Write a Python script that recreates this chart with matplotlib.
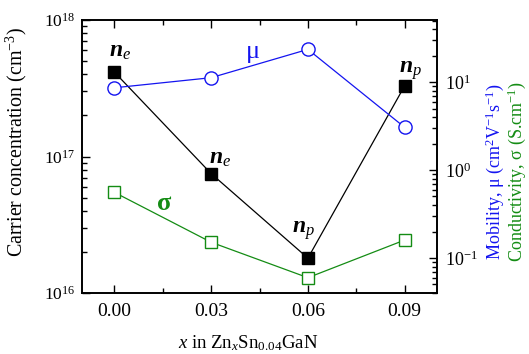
import matplotlib
matplotlib.use("Agg")
import matplotlib.pyplot as plt
from matplotlib.ticker import LogLocator, MultipleLocator, NullFormatter

plt.rcParams['font.family'] = ['Liberation Serif', 'DejaVu Serif']
plt.rcParams['mathtext.fontset'] = 'custom'
plt.rcParams['mathtext.rm'] = 'Liberation Serif'
plt.rcParams['mathtext.it'] = 'Liberation Serif:italic'
plt.rcParams['mathtext.bf'] = 'Liberation Serif:bold'
plt.rcParams['mathtext.bfit'] = 'Liberation Serif:italic:bold'

x = [0.00, 0.03, 0.06, 0.09]
carrier = [4.16e17, 7.5e16, 1.8e16, 3.3e17]
carrier_type = ['e', 'e', 'p', 'p']
mobility = [8.6, 11.2, 23.5, 3.05]
conductivity = [0.558, 0.151, 0.0597, 0.16]
xtick_labels = ['0.00', '0.03', '0.06', '0.09']

BLUE = '#1414f0'
GREEN = '#148c14'

fig = plt.figure(figsize=(5.29, 3.54), dpi=100)
ax = fig.add_axes([82/529, 1-293/354, (437-82)/529, (293-20)/354])
ax2 = ax.twinx()

ax.plot(x, carrier, color='black', lw=0.9, marker='s', ms=8.5,
        mfc='black', mec='black', zorder=3)
ax2.plot(x, mobility, color=BLUE, lw=0.9, marker='o', ms=9.5,
         mfc='white', mec=BLUE, mew=1.0)
ax2.plot(x, conductivity, color=GREEN, lw=0.9, marker='s', ms=9,
         mfc='white', mec=GREEN, mew=1.0)

ax.set_yscale('log')
ax.set_ylim(1e16, 1e18)
ax.set_xlim(-0.01, 0.1)
ax2.set_yscale('log')
ax2.set_ylim(0.04, 50.7)

ax.set_xticks(x)
ax.set_xticklabels(xtick_labels)
ax.xaxis.set_minor_locator(MultipleLocator(0.015))
ax.yaxis.set_minor_locator(LogLocator(base=10, subs=range(2, 10)))
ax.yaxis.set_minor_formatter(NullFormatter())
ax2.yaxis.set_major_locator(LogLocator(base=10, numticks=10))
ax2.yaxis.set_minor_locator(LogLocator(base=10, subs=range(2, 10), numticks=10))
ax2.yaxis.set_minor_formatter(NullFormatter())

ax.tick_params(axis='both', which='major', direction='in', length=6, width=1,
               top=True, bottom=True, left=True, right=False)
ax.tick_params(axis='both', which='minor', direction='in', length=3.5, width=1,
               top=True, bottom=True, left=True, right=False)
ax.tick_params(axis='x', which='major', labelsize=14, pad=7)
ax.tick_params(axis='y', which='major', labelsize=12.5, pad=5)
ax2.tick_params(axis='y', which='major', direction='in', length=6, width=1,
                labelsize=13, pad=6)
ax2.tick_params(axis='y', which='minor', direction='in', length=3.5, width=1)
for a in (ax, ax2):
    for s in a.spines.values():
        s.set_linewidth(1.2)

ax.set_ylabel('Carrier concentration (cm$^{-3}$)', fontsize=14.4)
ax.yaxis.set_label_coords(-0.148, 0.553)
ax.set_xlabel('$x$ in Zn$_x$Sn$_{0.04}$GaN', fontsize=13.5)
ax.xaxis.set_label_coords(0.468, -0.148)

fig.text(495/529, 1-172/354, 'Mobility, μ (cm$^{2}$V$^{-1}$s$^{-1}$)', color=BLUE,
         rotation=90, ha='center', va='center', fontsize=13)
fig.text(517/529, 1-172/354, 'Conductivity, σ (S.cm$^{-1}$)', color=GREEN,
         rotation=90, ha='center', va='center', fontsize=13)

# carrier type labels (offsets in pixels from each point)
label_offsets = [(6, 20), (9, 15), (-4, 28), (6, 15)]
for xi, ci, t, off in zip(x, carrier, carrier_type, label_offsets):
    ax.annotate(r'$\mathbfit{n}_{\mathit{%s}}$' % t, (xi, ci), xytext=off,
                textcoords='offset pixels', fontsize=17, ha='center', va='center')

ax.annotate('μ', (0.043, 1e18), xytext=(0, -32), textcoords='offset pixels',
            color=BLUE, fontsize=19, ha='center', va='center')
ax.annotate('σ', (0.0155, 1e16), xytext=(0, 90), textcoords='offset pixels',
            color=GREEN, fontsize=19, ha='center', va='center', fontweight='bold')

fig.savefig('out.png', dpi=100)
